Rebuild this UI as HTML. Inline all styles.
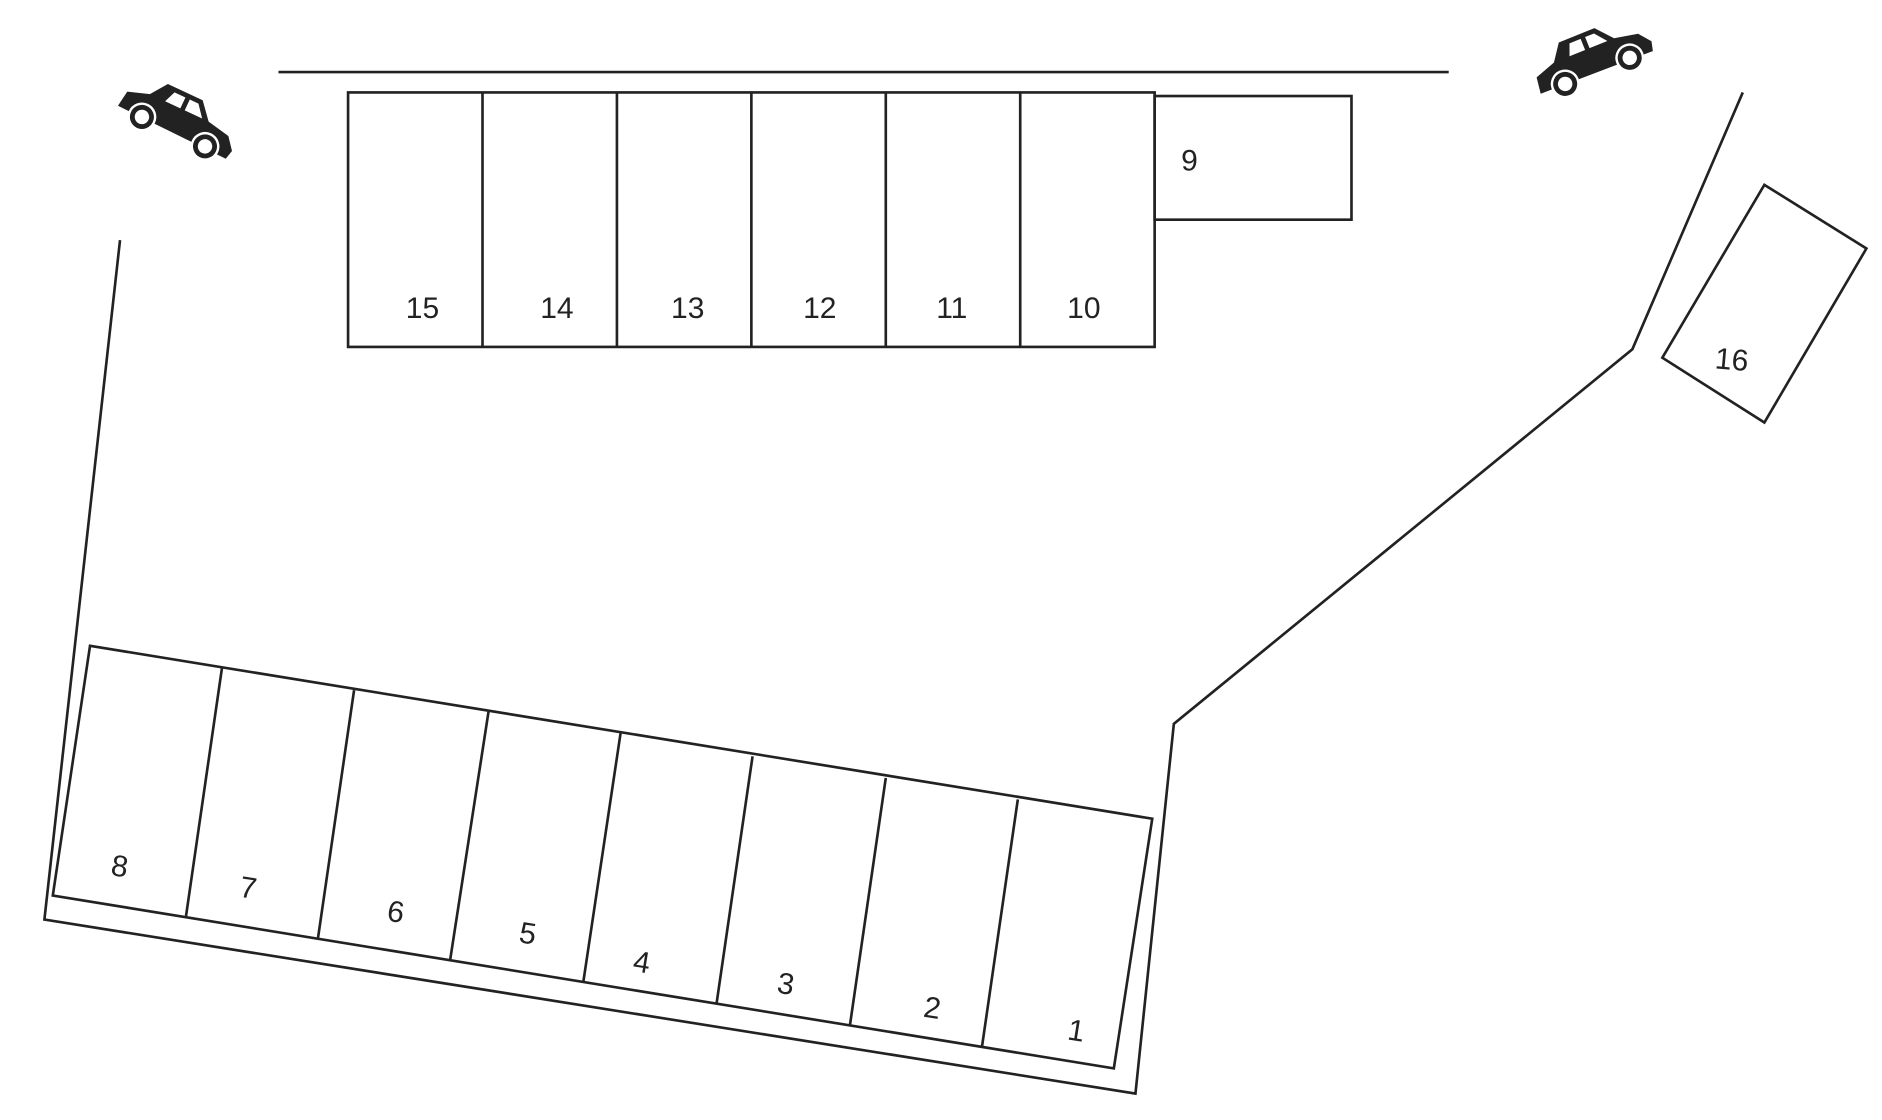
<!DOCTYPE html>
<html><head><meta charset="utf-8"><style>html,body{margin:0;padding:0;background:#fff}svg{display:block}</style></head>
<body>
<svg width="1882" height="1120" viewBox="0 0 1568 933" preserveAspectRatio="none" xmlns="http://www.w3.org/2000/svg">
<defs>
<g id="car">
<path d="M-50,8 L-48,-6 L-30,-12 L-20,-26 L12,-26 L24,-12 L44,-8 L52,2 L50,10 Z" fill="#222"/>
<path d="M-16,-12 L-12,-22 L-2,-22 L-2,-12 Z M2,-12 L2,-22 L10,-22 L18,-12 Z" fill="#fff"/>
<circle cx="-28" cy="8" r="11" fill="#222" stroke="#fff" stroke-width="2"/>
<circle cx="-28" cy="8" r="6" fill="#fff"/>
<circle cx="30" cy="8" r="11" fill="#222" stroke="#fff" stroke-width="2"/>
<circle cx="30" cy="8" r="6" fill="#fff"/>
</g>
</defs>
<g fill="none" stroke="#222" stroke-width="2.2">
<line x1="232" y1="60" x2="1207" y2="60"/>
<rect x="290" y="77" width="672" height="212"/>
<line x1="402" y1="77" x2="402" y2="289"/>
<line x1="514" y1="77" x2="514" y2="289"/>
<line x1="626" y1="77" x2="626" y2="289"/>
<line x1="738" y1="77" x2="738" y2="289"/>
<line x1="850" y1="77" x2="850" y2="289"/>
<rect x="962" y="80" width="164" height="103"/>
<polyline points="100,200 37,766 946,911 978,603 1360,291 1452,77"/>
<polygon points="75,538 960,682 928,890 44,746"/>
<line x1="185" y1="556" x2="155" y2="763"/>
<line x1="295" y1="575" x2="265" y2="781"/>
<line x1="407" y1="593" x2="375" y2="800"/>
<line x1="517" y1="611" x2="486" y2="818"/>
<line x1="627" y1="630" x2="597" y2="836"/>
<line x1="738" y1="648" x2="708" y2="855"/>
<line x1="848" y1="666" x2="818" y2="873"/>
<polygon points="1470,154 1555,207 1470,352 1385,298"/>
</g>
<g font-family="Liberation Sans, sans-serif" font-size="25" fill="#222" text-anchor="middle">
<text x="352" y="265">15</text><text x="464" y="265">14</text><text x="573" y="265">13</text>
<text x="683" y="265">12</text><text x="793" y="265">11</text><text x="903" y="265">10</text>
<text x="991" y="142">9</text>
<text x="1443" y="308" transform="rotate(5 1443 298)">16</text>
<text x="100" y="730" transform="rotate(9 100 720)">8</text>
<text x="207" y="748" transform="rotate(9 207 738)">7</text>
<text x="330" y="768" transform="rotate(9 330 758)">6</text>
<text x="440" y="786" transform="rotate(9 440 776)">5</text>
<text x="535" y="810" transform="rotate(9 535 800)">4</text>
<text x="655" y="828" transform="rotate(9 655 818)">3</text>
<text x="777" y="848" transform="rotate(9 777 838)">2</text>
<text x="897" y="867" transform="rotate(9 897 857)">1</text>
</g>
<use href="#car" transform="translate(147,102) rotate(25)"/>
<use href="#car" transform="translate(1327,52) rotate(-22)"/>
</svg>
</body></html>
